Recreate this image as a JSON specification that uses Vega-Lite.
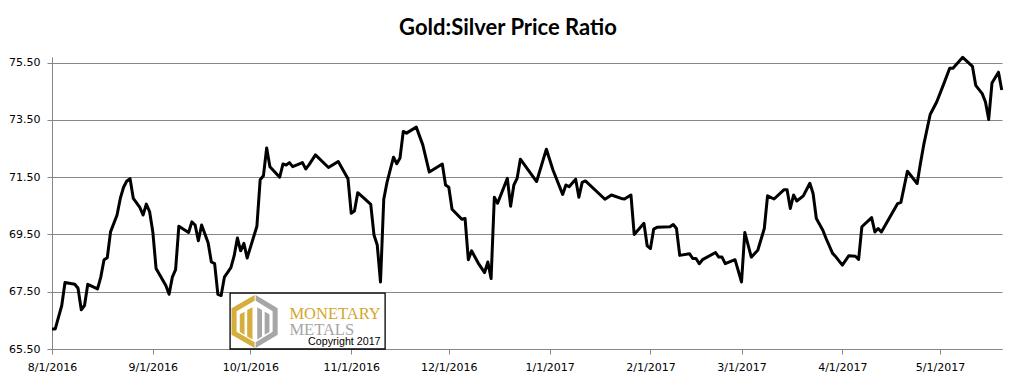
{
  "$schema": "https://vega.github.io/schema/vega-lite/v6.json",
  "width": 950,
  "height": 292,
  "autosize": {"type": "none"},
  "padding": {"left": 52, "top": 57, "right": 14, "bottom": 34},
  "background": "white",
  "title": {"text": "Gold:Silver Price Ratio", "font": "Lato", "fontSize": 22, "fontWeight": "bold", "color": "#000000", "anchor": "middle", "baseline": "alphabetic", "dx": -19, "dy": 22, "offset": 21},
  "config": {"view": {"stroke": null}},
  "data": {"values": [
    {"date":"2016-08-01","ratio":66.20},{"date":"2016-08-02","ratio":66.20},{"date":"2016-08-04","ratio":67.02},{"date":"2016-08-05","ratio":67.82},
    {"date":"2016-08-08","ratio":67.76},{"date":"2016-08-09","ratio":67.62},{"date":"2016-08-10","ratio":66.87},{"date":"2016-08-11","ratio":67.02},
    {"date":"2016-08-12","ratio":67.76},{"date":"2016-08-15","ratio":67.60},{"date":"2016-08-16","ratio":68.01},{"date":"2016-08-17","ratio":68.62},
    {"date":"2016-08-18","ratio":68.69},{"date":"2016-08-19","ratio":69.59},{"date":"2016-08-21","ratio":70.18},{"date":"2016-08-22","ratio":70.76},
    {"date":"2016-08-23","ratio":71.15},{"date":"2016-08-24","ratio":71.37},{"date":"2016-08-25","ratio":71.45},{"date":"2016-08-26","ratio":70.76},
    {"date":"2016-08-28","ratio":70.45},{"date":"2016-08-29","ratio":70.18},{"date":"2016-08-30","ratio":70.56},{"date":"2016-08-31","ratio":70.30},
    {"date":"2016-09-01","ratio":69.59},{"date":"2016-09-02","ratio":68.31},{"date":"2016-09-05","ratio":67.72},{"date":"2016-09-06","ratio":67.41},
    {"date":"2016-09-07","ratio":68.01},{"date":"2016-09-08","ratio":68.27},{"date":"2016-09-09","ratio":69.79},{"date":"2016-09-12","ratio":69.57},
    {"date":"2016-09-13","ratio":69.94},{"date":"2016-09-14","ratio":69.83},{"date":"2016-09-15","ratio":69.28},{"date":"2016-09-16","ratio":69.83},
    {"date":"2016-09-18","ratio":69.21},{"date":"2016-09-19","ratio":68.54},{"date":"2016-09-20","ratio":68.48},{"date":"2016-09-21","ratio":67.41},
    {"date":"2016-09-22","ratio":67.37},{"date":"2016-09-23","ratio":68.01},{"date":"2016-09-25","ratio":68.34},{"date":"2016-09-26","ratio":68.75},
    {"date":"2016-09-27","ratio":69.38},{"date":"2016-09-28","ratio":68.93},{"date":"2016-09-29","ratio":69.19},{"date":"2016-09-30","ratio":68.68},
    {"date":"2016-10-03","ratio":69.79},{"date":"2016-10-04","ratio":71.41},{"date":"2016-10-05","ratio":71.55},{"date":"2016-10-06","ratio":72.52},
    {"date":"2016-10-07","ratio":71.87},{"date":"2016-10-10","ratio":71.50},{"date":"2016-10-11","ratio":71.96},{"date":"2016-10-12","ratio":71.93},
    {"date":"2016-10-13","ratio":72.01},{"date":"2016-10-14","ratio":71.87},{"date":"2016-10-17","ratio":72.01},{"date":"2016-10-18","ratio":71.79},
    {"date":"2016-10-19","ratio":71.93},{"date":"2016-10-21","ratio":72.28},{"date":"2016-10-25","ratio":71.84},{"date":"2016-10-28","ratio":72.05},
    {"date":"2016-10-31","ratio":71.45},{"date":"2016-11-01","ratio":70.24},{"date":"2016-11-02","ratio":70.32},{"date":"2016-11-03","ratio":70.96},
    {"date":"2016-11-05","ratio":70.76},{"date":"2016-11-07","ratio":70.55},{"date":"2016-11-08","ratio":69.48},{"date":"2016-11-09","ratio":69.13},
    {"date":"2016-11-10","ratio":67.84},{"date":"2016-11-11","ratio":70.73},{"date":"2016-11-12","ratio":71.32},{"date":"2016-11-14","ratio":72.20},
    {"date":"2016-11-15","ratio":71.97},{"date":"2016-11-16","ratio":72.17},{"date":"2016-11-17","ratio":73.10},{"date":"2016-11-18","ratio":73.04},
    {"date":"2016-11-21","ratio":73.25},{"date":"2016-11-23","ratio":72.63},{"date":"2016-11-25","ratio":71.68},{"date":"2016-11-29","ratio":71.96},
    {"date":"2016-11-30","ratio":71.23},{"date":"2016-12-01","ratio":71.15},{"date":"2016-12-02","ratio":70.38},{"date":"2016-12-05","ratio":70.03},
    {"date":"2016-12-06","ratio":70.06},{"date":"2016-12-07","ratio":68.62},{"date":"2016-12-08","ratio":68.93},{"date":"2016-12-10","ratio":68.51},
    {"date":"2016-12-12","ratio":68.17},{"date":"2016-12-13","ratio":68.54},{"date":"2016-12-14","ratio":67.96},{"date":"2016-12-15","ratio":70.80},
    {"date":"2016-12-16","ratio":70.59},{"date":"2016-12-19","ratio":71.46},{"date":"2016-12-20","ratio":70.49},{"date":"2016-12-21","ratio":71.23},
    {"date":"2016-12-22","ratio":71.46},{"date":"2016-12-23","ratio":72.13},{"date":"2016-12-28","ratio":71.35},{"date":"2016-12-31","ratio":72.48},
    {"date":"2017-01-02","ratio":71.76},{"date":"2017-01-05","ratio":70.90},{"date":"2017-01-06","ratio":71.23},{"date":"2017-01-07","ratio":71.17},
    {"date":"2017-01-09","ratio":71.43},{"date":"2017-01-10","ratio":70.80},{"date":"2017-01-11","ratio":71.32},{"date":"2017-01-12","ratio":71.37},
    {"date":"2017-01-18","ratio":70.73},{"date":"2017-01-20","ratio":70.88},{"date":"2017-01-23","ratio":70.76},{"date":"2017-01-24","ratio":70.74},
    {"date":"2017-01-26","ratio":70.88},{"date":"2017-01-27","ratio":69.50},{"date":"2017-01-30","ratio":69.89},{"date":"2017-01-31","ratio":69.10},
    {"date":"2017-02-01","ratio":69.01},{"date":"2017-02-02","ratio":69.69},{"date":"2017-02-03","ratio":69.75},{"date":"2017-02-07","ratio":69.77},
    {"date":"2017-02-08","ratio":69.85},{"date":"2017-02-09","ratio":69.71},{"date":"2017-02-10","ratio":68.77},{"date":"2017-02-13","ratio":68.83},
    {"date":"2017-02-14","ratio":68.66},{"date":"2017-02-15","ratio":68.66},{"date":"2017-02-16","ratio":68.48},{"date":"2017-02-17","ratio":68.62},
    {"date":"2017-02-21","ratio":68.87},{"date":"2017-02-22","ratio":68.71},{"date":"2017-02-23","ratio":68.71},{"date":"2017-02-24","ratio":68.48},
    {"date":"2017-02-27","ratio":68.62},{"date":"2017-03-01","ratio":67.84},{"date":"2017-03-02","ratio":69.57},{"date":"2017-03-04","ratio":68.71},
    {"date":"2017-03-06","ratio":68.95},{"date":"2017-03-08","ratio":69.71},{"date":"2017-03-09","ratio":70.85},{"date":"2017-03-11","ratio":70.74},
    {"date":"2017-03-14","ratio":71.06},{"date":"2017-03-15","ratio":71.06},{"date":"2017-03-16","ratio":70.41},{"date":"2017-03-17","ratio":70.88},
    {"date":"2017-03-18","ratio":70.67},{"date":"2017-03-20","ratio":70.85},{"date":"2017-03-22","ratio":71.29},{"date":"2017-03-23","ratio":70.93},
    {"date":"2017-03-24","ratio":70.06},{"date":"2017-03-26","ratio":69.65},{"date":"2017-03-27","ratio":69.36},{"date":"2017-03-29","ratio":68.84},
    {"date":"2017-03-30","ratio":68.72},{"date":"2017-04-01","ratio":68.43},{"date":"2017-04-03","ratio":68.76},{"date":"2017-04-05","ratio":68.74},
    {"date":"2017-04-06","ratio":68.63},{"date":"2017-04-07","ratio":69.77},{"date":"2017-04-10","ratio":70.09},{"date":"2017-04-11","ratio":69.59},
    {"date":"2017-04-12","ratio":69.71},{"date":"2017-04-13","ratio":69.59},{"date":"2017-04-18","ratio":70.58},{"date":"2017-04-19","ratio":70.62},
    {"date":"2017-04-21","ratio":71.71},{"date":"2017-04-24","ratio":71.28},{"date":"2017-04-25","ratio":71.98},{"date":"2017-04-26","ratio":72.62},
    {"date":"2017-04-28","ratio":73.69},{"date":"2017-04-30","ratio":74.13},{"date":"2017-05-02","ratio":74.71},{"date":"2017-05-04","ratio":75.31},
    {"date":"2017-05-05","ratio":75.31},{"date":"2017-05-08","ratio":75.69},{"date":"2017-05-11","ratio":75.37},{"date":"2017-05-12","ratio":74.71},
    {"date":"2017-05-14","ratio":74.42},{"date":"2017-05-15","ratio":74.13},{"date":"2017-05-16","ratio":73.52},{"date":"2017-05-17","ratio":74.79},
    {"date":"2017-05-19","ratio":75.17},{"date":"2017-05-20","ratio":74.55}
  ]},
  "layer": [
    {
      "mark": {"type": "line", "color": "#000000", "strokeWidth": 3, "strokeJoin": "round"},
      "encoding": {
        "x": {"field": "date", "type": "temporal",
          "scale": {"type": "utc", "domain": [{"year": 2016, "month": 8, "date": 1, "utc": true}, {"year": 2017, "month": 5, "date": 20, "hours": 2, "utc": true}]},
          "axis": {"title": null, "grid": false,
            "values": [{"year":2016,"month":8,"date":1,"utc":true},{"year":2016,"month":9,"date":1,"utc":true},{"year":2016,"month":10,"date":1,"utc":true},{"year":2016,"month":11,"date":1,"utc":true},{"year":2016,"month":12,"date":1,"utc":true},{"year":2017,"month":1,"date":1,"utc":true},{"year":2017,"month":2,"date":1,"utc":true},{"year":2017,"month":3,"date":1,"utc":true},{"year":2017,"month":4,"date":1,"utc":true},{"year":2017,"month":5,"date":1,"utc":true}],
            "labelExpr": "utcFormat(datum.value, '%-m/%-d/%Y')",
            "domainColor": "#868686", "domainWidth": 1, "tickColor": "#868686", "tickSize": 5, "tickWidth": 1,
            "labelFont": "DejaVu Sans", "labelFontSize": 11, "labelColor": "#000000", "labelPadding": 7, "labelAngle": 0, "labelOverlap": false, "labelFlush": false}},
        "y": {"field": "ratio", "type": "quantitative",
          "scale": {"domain": [65.5, 75.7], "nice": false, "zero": false},
          "axis": {"title": null, "values": [65.5, 67.5, 69.5, 71.5, 73.5, 75.5], "format": ".2f",
            "grid": true, "gridColor": "#868686", "gridWidth": 1, "gridOpacity": 1,
            "domainColor": "#868686", "domainWidth": 1, "tickColor": "#868686", "tickSize": 5, "tickWidth": 1,
            "labelFont": "DejaVu Sans", "labelFontSize": 11, "labelColor": "#000000", "labelPadding": 7}}
      }
    },
    {
      "data": {"values": [{}]},
      "mark": {"type": "rect", "fill": "#ffffff", "stroke": "#000000", "strokeWidth": 1.3},
      "encoding": {
        "x": {"datum": {"year": 2016, "month": 9, "date": 24, "hours": 18, "utc": true}, "type": "temporal"},
        "x2": {"datum": {"year": 2016, "month": 11, "date": 11, "hours": 10, "utc": true}},
        "y": {"datum": 67.45, "type": "quantitative"},
        "y2": {"datum": 65.5}
      }
    },
    {
      "data": {"values": [{}]},
      "mark": {"type": "point", "filled": true, "opacity": 1, "size": 2809, "color": "#D6AE3C", "strokeWidth": 0,
        "shape": "M0,-1 L-0.87,-0.5 L-0.87,0.5 L0,1 L0,0.78 L-0.68,0.39 L-0.68,-0.39 L0,-0.78 Z M-0.56,-0.27 L-0.38,-0.37 L-0.38,0.5 L-0.56,0.4 Z M-0.28,-0.43 L-0.08,-0.54 L-0.08,0.68 L-0.28,0.57 Z"},
      "encoding": {
        "x": {"datum": {"year": 2016, "month": 10, "date": 2, "hours": 7, "utc": true}, "type": "temporal"},
        "y": {"datum": 66.46, "type": "quantitative"}
      }
    },
    {
      "data": {"values": [{}]},
      "mark": {"type": "point", "filled": true, "opacity": 1, "size": 2809, "color": "#A6A6A6", "strokeWidth": 0,
        "shape": "M0.04,-1 L0.87,-0.5 L0.87,0.5 L0.04,1 L0.04,0.78 L0.68,0.39 L0.68,-0.39 L0.04,-0.78 Z M0.56,-0.27 L0.38,-0.37 L0.38,0.5 L0.56,0.4 Z M0.28,-0.43 L0.1,-0.54 L0.1,0.68 L0.28,0.57 Z"},
      "encoding": {
        "x": {"datum": {"year": 2016, "month": 10, "date": 2, "hours": 7, "utc": true}, "type": "temporal"},
        "y": {"datum": 66.46, "type": "quantitative"}
      }
    },
    {
      "data": {"values": [{}]},
      "mark": {"type": "text", "text": "MONETARY", "font": "Liberation Serif", "fontSize": 16.5, "color": "#D4A72C", "align": "left", "baseline": "alphabetic"},
      "encoding": {
        "x": {"datum": {"year": 2016, "month": 10, "date": 13, "utc": true}, "type": "temporal"},
        "y": {"datum": 66.546, "type": "quantitative"}
      }
    },
    {
      "data": {"values": [{}]},
      "mark": {"type": "text", "text": "METALS", "font": "Liberation Serif", "fontSize": 16.5, "color": "#A5A5A5", "align": "left", "baseline": "alphabetic"},
      "encoding": {
        "x": {"datum": {"year": 2016, "month": 10, "date": 13, "utc": true}, "type": "temporal"},
        "y": {"datum": 65.988, "type": "quantitative"}
      }
    },
    {
      "data": {"values": [{}]},
      "mark": {"type": "text", "text": "Copyright 2017", "font": "Liberation Sans", "fontSize": 10.7, "color": "#000000", "align": "center", "baseline": "alphabetic"},
      "encoding": {
        "x": {"datum": {"year": 2016, "month": 10, "date": 29, "hours": 21, "utc": true}, "type": "temporal"},
        "y": {"datum": 65.64, "type": "quantitative"}
      }
    }
  ]
}
